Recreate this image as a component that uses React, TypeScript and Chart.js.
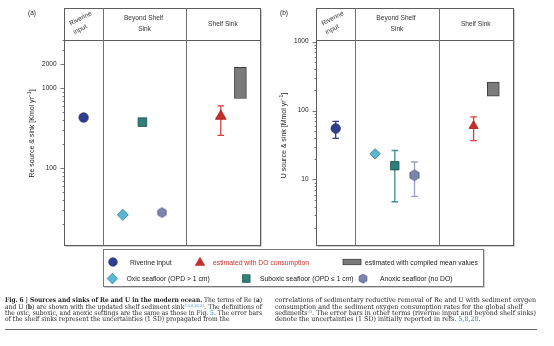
import React, { useEffect, useRef } from 'react';
import { Chart, registerables } from 'chart.js';

Chart.register(...registerables);

// ---------------- data ----------------
const termNames = [
  'Riverine input',
  'Oxic seafloor (OPD > 1 cm)',
  'Suboxic seafloor (OPD \u2264 1 cm)',
  'Anoxic seafloor (no DO)',
  'estimated with DO consumption',
];
const compiledName = 'estimated with compiled mean values';
const termX = [1, 3, 4, 5, 8];
const compiledX = 9;
const columnDividers = [2, 6.22];
const columnTitles = [['Riverine', 'input'], ['Beyond Shelf', 'Sink'], ['Shelf Sink']];

// (a) Re, Kmol/yr
const reValues = [430, 26, 377, 27.8, 447];
const reErrLow = [null, null, null, null, 258];
const reErrHigh = [null, null, null, null, 604];
const reCompiled = [745, 1830];
const reTickLabels = [100, 1000, 2000];
const reRange = [10.9, 4027];

// (b) U, Mmol/yr
const uValues = [54.8, 23.5, 15.8, 11.5, 59.9];
const uErrLow = [39.4, null, 4.74, 5.66, 36.5];
const uErrHigh = [69.6, null, 26.3, 17.9, 81];
const uCompiled = [161, 259];
const uTickLabels = [10, 100, 1000];
const uRange = [1.105, 1057];

// ---------------- styles ----------------
const SANS = '"Liberation Sans", Arial, Helvetica, sans-serif';
const SERIF = '"DejaVu Serif", "Liberation Serif", serif';

const termStyles = [
  { shape: 'circle', fill: '#2f3f8e', stroke: '#1e2a66', err: '#2f3f8e' },
  { shape: 'rectRot', fill: '#5cb6d3', stroke: '#2b7896', err: '#5cb6d3' },
  { shape: 'rect', fill: '#2e7f78', stroke: '#1b514c', err: '#3f918a' },
  { shape: 'hex', fill: '#7c86ad', stroke: '#4f587f', err: '#98a2c6' },
  { shape: 'triangle', fill: '#c9302b', stroke: '#a21f1b', err: '#d6403a' },
];

function makeHex(r: number, fill: string, stroke: string) {
  const s = Math.ceil(2 * r + 2);
  const c = document.createElement('canvas');
  c.width = s;
  c.height = s;
  const g = c.getContext('2d')!;
  g.beginPath();
  for (let k = 0; k < 6; k++) {
    const ang = -Math.PI / 2 + (k * Math.PI) / 3;
    const x = s / 2 + r * Math.cos(ang);
    const y = s / 2 + r * Math.sin(ang);
    if (k === 0) g.moveTo(x, y);
    else g.lineTo(x, y);
  }
  g.closePath();
  g.fillStyle = fill;
  g.fill();
  g.strokeStyle = stroke;
  g.lineWidth = 0.8;
  g.stroke();
  return c;
}

type PanelProps = {
  label: string;
  titleMain: string;
  values: number[];
  errLow: (number | null)[];
  errHigh: (number | null)[];
  compiled: number[];
  tickLabels: number[];
  range: number[];
  sizes: number[];
  left: number;
  padLeft: number;
  padRight: number;
  titleDy: number;
};

const CW = 277;
const CH = 252;

function makeFramePlugin(p: PanelProps) {
  return {
    id: 'panelFrame',
    beforeDatasetsDraw(chart: any) {
      const { ctx, chartArea: a } = chart;
      const xs = chart.scales.x;
      const ys = chart.scales.y;
      const L = Math.round(a.left) + 0.5;
      const R = Math.round(a.right) + 0.5;
      const T = Math.round(a.top) + 0.5;
      const B = Math.round(a.bottom) + 0.5;
      const HT = 8.5;
      ctx.save();
      // shadow on right / bottom
      ctx.lineWidth = 1;
      ctx.strokeStyle = '#cfcfcf';
      ctx.beginPath();
      ctx.moveTo(R + 1, HT + 1);
      ctx.lineTo(R + 1, B + 1);
      ctx.lineTo(L + 1, B + 1);
      ctx.stroke();
      // box
      ctx.strokeStyle = '#5c5c5c';
      ctx.strokeRect(L, HT, R - L, B - HT);
      ctx.beginPath();
      ctx.moveTo(L, T);
      ctx.lineTo(R, T);
      ctx.stroke();
      ctx.strokeStyle = '#707070';
      columnDividers.forEach((d) => {
        const x = Math.round(xs.getPixelForValue(d)) + 0.5;
        ctx.beginPath();
        ctx.moveTo(x, HT);
        ctx.lineTo(x, B);
        ctx.stroke();
      });

      // header titles
      const bounds = [0, ...columnDividers, 10];
      const cx = (k: number) => (xs.getPixelForValue(bounds[k]) + xs.getPixelForValue(bounds[k + 1])) / 2;
      ctx.fillStyle = '#333';
      ctx.font = `6.6px ${SANS}`;
      ctx.textAlign = 'center';
      ctx.textBaseline = 'middle';
      const rot = (txt: string, x: number, y: number) => {
        ctx.save();
        ctx.translate(x, y);
        ctx.rotate((-28 * Math.PI) / 180);
        ctx.fillText(txt, 0, 0);
        ctx.restore();
      };
      rot(columnTitles[0][0], cx(0) - 3, 18.5);
      rot(columnTitles[0][1], cx(0) - 3.5, 29.5);
      ctx.fillText(columnTitles[1][0], cx(1) - 1, 18.5);
      ctx.fillText(columnTitles[1][1], cx(1), 29);
      ctx.fillText(columnTitles[2][0], cx(2), 24);

      // y ticks
      const [mn, mx] = p.range;
      ctx.strokeStyle = '#555';
      ctx.lineWidth = 0.8;
      ctx.beginPath();
      for (let e = Math.floor(Math.log10(mn)); e <= Math.ceil(Math.log10(mx)); e++) {
        for (let m = 1; m <= 9; m++) {
          const v = m * Math.pow(10, e);
          if (v < mn || v > mx) continue;
          const y = Math.round(ys.getPixelForValue(v)) + 0.5;
          const major = m === 1 || p.tickLabels.includes(v);
          ctx.moveTo(L - (major ? 4 : 2), y);
          ctx.lineTo(L, y);
        }
      }
      ctx.stroke();
      ctx.fillStyle = '#222';
      ctx.font = `6.5px ${SANS}`;
      ctx.textAlign = 'right';
      ctx.textBaseline = 'middle';
      p.tickLabels.forEach((v) => {
        ctx.fillText(String(v), L - 8, ys.getPixelForValue(v));
      });

      // panel label
      ctx.textAlign = 'left';
      ctx.font = `6.5px ${SANS}`;
      ctx.fillText(p.label, L - 36.5, 13);

      // axis title (rotated) with superscript
      ctx.save();
      ctx.translate(L - 33, T + p.titleDy);
      ctx.rotate(-Math.PI / 2);
      ctx.font = `7px ${SANS}`;
      const w1 = ctx.measureText(p.titleMain).width;
      const w3 = ctx.measureText(']').width;
      ctx.font = `5px ${SANS}`;
      const w2 = ctx.measureText('\u22121').width;
      let s = -(w1 + w2 + w3) / 2;
      ctx.textBaseline = 'alphabetic';
      ctx.textAlign = 'left';
      ctx.font = `7px ${SANS}`;
      ctx.fillText(p.titleMain, s, 2.5);
      s += w1;
      ctx.font = `5px ${SANS}`;
      ctx.fillText('\u22121', s, -0.8);
      s += w2;
      ctx.font = `7px ${SANS}`;
      ctx.fillText(']', s, 2.5);
      ctx.restore();

      // error bars
      p.values.forEach((_v, i) => {
        const lo = p.errLow[i];
        const hi = p.errHigh[i];
        if (lo == null || hi == null) return;
        const x = xs.getPixelForValue(termX[i]);
        const y1 = ys.getPixelForValue(lo);
        const y2 = ys.getPixelForValue(hi);
        ctx.strokeStyle = termStyles[i].err;
        ctx.lineWidth = 1.3;
        ctx.beginPath();
        ctx.moveTo(x, y1);
        ctx.lineTo(x, y2);
        ctx.moveTo(x - 3.3, y1);
        ctx.lineTo(x + 3.3, y1);
        ctx.moveTo(x - 3.3, y2);
        ctx.lineTo(x + 3.3, y2);
        ctx.stroke();
      });
      ctx.restore();
    },
  };
}

function Panel(p: PanelProps) {
  const ref = useRef<HTMLCanvasElement>(null);
  useEffect(() => {
    const canvas = ref.current!;
    const datasets: any[] = [
      {
        type: 'bar',
        label: compiledName,
        data: [{ x: compiledX, y: [p.compiled[0], p.compiled[1]] }],
        backgroundColor: '#7b7b7b',
        borderColor: '#3e3e3e',
        borderWidth: 1,
        barThickness: 12,
        borderSkipped: false,
      },
    ];
    p.values.forEach((v, i) => {
      const st = termStyles[i];
      datasets.push({
        type: 'scatter',
        label: termNames[i],
        data: [{ x: termX[i], y: v }],
        pointStyle: st.shape === 'hex' ? makeHex(p.sizes[i], st.fill, st.stroke) : st.shape,
        pointRadius: p.sizes[i],
        pointBackgroundColor: st.fill,
        pointBorderColor: st.stroke,
        pointBorderWidth: 0.8,
      });
    });
    const chart = new Chart(canvas, {
      type: 'scatter',
      data: { datasets },
      options: {
        animation: false,
        responsive: false,
        events: [],
        layout: { padding: { left: p.padLeft, right: p.padRight, top: 40, bottom: CH - 248 } },
        scales: {
          x: { type: 'linear', min: 0, max: 10, offset: false, display: false, grid: { offset: false } },
          y: { type: 'logarithmic', min: p.range[0], max: p.range[1], display: false },
        },
        plugins: { legend: { display: false }, tooltip: { enabled: false } },
      },
      plugins: [makeFramePlugin(p)],
    } as any);
    return () => chart.destroy();
  }, []);
  return (
    <canvas
      ref={ref}
      width={CW}
      height={CH}
      style={{ position: 'absolute', left: p.left, top: 0, width: CW, height: CH }}
    />
  );
}

const legendText: React.CSSProperties = {
  position: 'absolute',
  fontFamily: SANS,
  fontSize: 6.8,
  lineHeight: '9px',
  whiteSpace: 'nowrap',
  color: '#222',
};

function hexPoints(cx: number, cy: number, r: number) {
  const pts: string[] = [];
  for (let k = 0; k < 6; k++) {
    const ang = -Math.PI / 2 + (k * Math.PI) / 3;
    pts.push(`${cx + r * Math.cos(ang)},${cy + r * Math.sin(ang)}`);
  }
  return pts.join(' ');
}

function Legend() {
  const y1 = 262;
  const y2 = 278.6;
  return (
    <>
      <div
        style={{
          position: 'absolute',
          left: 103,
          top: 249,
          width: 381,
          height: 38,
          border: '1px solid #777',
          boxShadow: '1px 1px 0 #cfcfcf',
          boxSizing: 'border-box',
          background: '#fff',
        }}
      />
      <svg width={554} height={346} style={{ position: 'absolute', left: 0, top: 0 }}>
        <circle cx={113} cy={y1} r={4.3} fill={termStyles[0].fill} stroke={termStyles[0].stroke} strokeWidth={0.6} />
        <polygon points={`200,${y1 - 4.8} 204.8,${y1 + 3.6} 195.2,${y1 + 3.6}`} fill={termStyles[4].fill} stroke={termStyles[4].stroke} strokeWidth={0.5} />
        <rect x={343} y={y1 - 2.7} width={18} height={5.4} fill="#7b7b7b" stroke="#3e3e3e" strokeWidth={0.8} />
        <polygon points={`112.4,${y2 - 5.3} 117.7,${y2} 112.4,${y2 + 5.3} 107.1,${y2}`} fill={termStyles[1].fill} stroke={termStyles[1].stroke} strokeWidth={0.6} />
        <rect x={242.3} y={y2 - 3.9} width={7.8} height={7.8} fill={termStyles[2].fill} stroke={termStyles[2].stroke} strokeWidth={0.6} />
        <polygon points={hexPoints(363, y2, 4.6)} fill={termStyles[3].fill} stroke={termStyles[3].stroke} strokeWidth={0.6} />
      </svg>
      <div style={{ ...legendText, left: 130, top: y1 - 4.5 }}>{termNames[0]}</div>
      <div style={{ ...legendText, left: 213, top: y1 - 4.5, color: '#c0312b' }}>{termNames[4]}</div>
      <div style={{ ...legendText, left: 365, top: y1 - 4.5 }}>{compiledName}</div>
      <div style={{ ...legendText, left: 126.5, top: y2 - 4.5 }}>{termNames[1]}</div>
      <div style={{ ...legendText, left: 260, top: y2 - 4.5 }}>{termNames[2]}</div>
      <div style={{ ...legendText, left: 380, top: y2 - 4.5 }}>{termNames[3]}</div>
    </>
  );
}

const capLine: React.CSSProperties = {
  position: 'absolute',
  fontFamily: SERIF,
  fontSize: 6.7,
  lineHeight: '6.3px',
  whiteSpace: 'nowrap',
  color: '#1e1e1e',
  transformOrigin: '0 50%',
};
const blue: React.CSSProperties = { color: '#2a6ebb' };
const sup: React.CSSProperties = { fontSize: 3.8, verticalAlign: 'top', lineHeight: '4px' };

function Caption() {
  const refs = useRef<(HTMLDivElement | null)[]>([]);
  const ys = [297.2, 303.5, 309.8, 316.1];
  const lx = 5;
  const rx = 275;
  // target widths of the full lines (null = ragged last line)
  const targets = [257, 257, 257, null, 261, null, 261, null];
  useEffect(() => {
    const els = refs.current;
    const scales: (number | null)[] = targets.map((t, i) => {
      const el = els[i];
      if (!el || t == null) return null;
      const w = el.getBoundingClientRect().width;
      return w > 0 ? t / w : 1;
    });
    const colAvg = (idx: number[]) => {
      const v = idx.map((i) => scales[i]).filter((x) => x != null) as number[];
      return v.reduce((s, x) => s + x, 0) / v.length;
    };
    const lAvg = colAvg([1, 2]);
    const rAvg = colAvg([4, 6]);
    els.forEach((el, i) => {
      if (!el) return;
      const s = scales[i] ?? (i < 4 ? lAvg : rAvg);
      el.style.transform = `scaleX(${s})`;
    });
  }, []);
  const setRef = (i: number) => (el: HTMLDivElement | null) => {
    refs.current[i] = el;
  };
  return (
    <>
      <div ref={setRef(0)} style={{ ...capLine, left: lx, top: ys[0] }}>
        <b>Fig. 6 | Sources and sinks of Re and U in the modern ocean.</b> The terms of Re (<b>a</b>)
      </div>
      <div ref={setRef(1)} style={{ ...capLine, left: lx, top: ys[1] }}>
        and U (<b>b</b>) are shown with the updated shelf sediment sink<span style={{ ...sup, ...blue }}>3,5,8,20,21</span>. The definitions of
      </div>
      <div ref={setRef(2)} style={{ ...capLine, left: lx, top: ys[2] }}>
        the oxic, suboxic, and anoxic settings are the same as those in Fig. <span style={blue}>5</span>. The error bars
      </div>
      <div ref={setRef(3)} style={{ ...capLine, left: lx, top: ys[3] }}>
        of the shelf sinks represent the uncertainties (1 SD) propagated from the
      </div>
      <div ref={setRef(4)} style={{ ...capLine, left: rx, top: ys[0] }}>
        correlations of sedimentary reductive removal of Re and U with sediment oxygen
      </div>
      <div ref={setRef(5)} style={{ ...capLine, left: rx, top: ys[1] }}>
        consumption and the sediment oxygen consumption rates for the global shelf
      </div>
      <div ref={setRef(6)} style={{ ...capLine, left: rx, top: ys[2] }}>
        sediments<span style={{ ...sup, ...blue }}>33</span>. The error bars in other terms (riverine input and beyond shelf sinks)
      </div>
      <div ref={setRef(7)} style={{ ...capLine, left: rx, top: ys[3] }}>
        denote the uncertainties (1 SD) initially reported in refs. <span style={blue}>5,8,20</span>.
      </div>
      <div style={{ position: 'absolute', left: 5, top: 329, width: 532, height: 1, background: '#666' }} />
    </>
  );
}

export default function App() {
  return (
    <div style={{ position: 'absolute', left: 0, top: 0, width: 554, height: 346, background: '#fff', overflow: 'hidden' }}>
      <Panel
        label="(a)"
        titleMain="Re source & sink [Kmol yr"
        values={reValues}
        errLow={reErrLow}
        errHigh={reErrHigh}
        compiled={reCompiled}
        tickLabels={reTickLabels}
        range={reRange}
        sizes={[4.7, 5.5, 6.1, 4.8, 6.2]}
        left={0}
        padLeft={64}
        padRight={CW - 260}
        titleDy={93}
      />
      <Panel
        label="(b)"
        titleMain="U source & sink [Mmol yr"
        values={uValues}
        errLow={uErrLow}
        errHigh={uErrHigh}
        compiled={uCompiled}
        tickLabels={uTickLabels}
        range={uRange}
        sizes={[4.7, 5.2, 5.9, 5.3, 5.2]}
        left={277}
        padLeft={39}
        padRight={CW - 236}
        titleDy={95}
      />
      <Legend />
      <Caption />
    </div>
  );
}
